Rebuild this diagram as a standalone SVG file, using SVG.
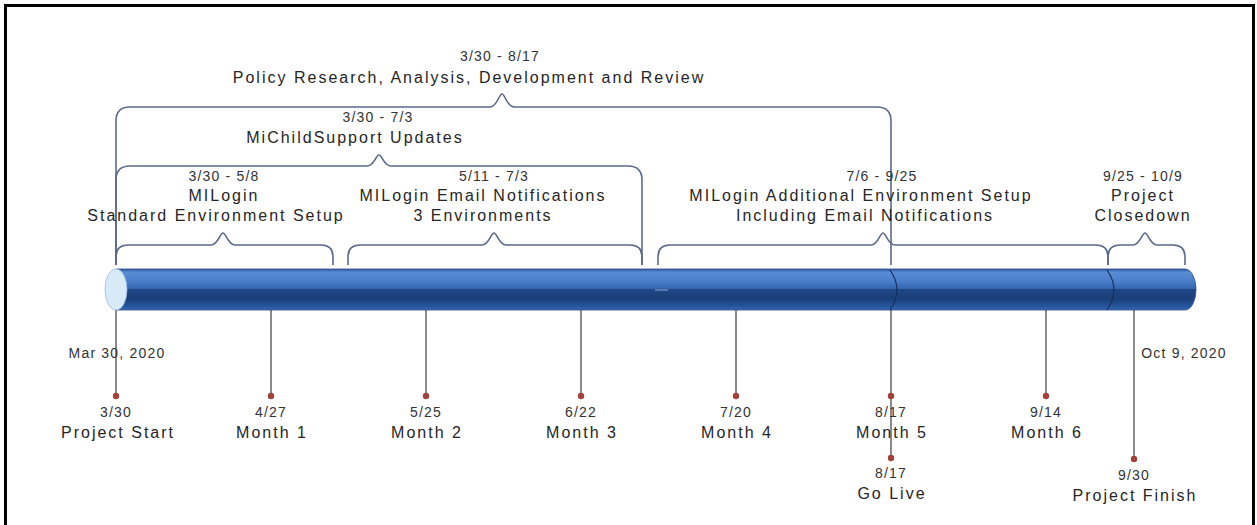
<svg xmlns="http://www.w3.org/2000/svg" width="1257" height="525" viewBox="0 0 1257 525">
<defs>
<linearGradient id="barGrad" x1="0" y1="0" x2="0" y2="1">
<stop offset="0" stop-color="#2a58a0"/>
<stop offset="0.08" stop-color="#5a8cd6"/>
<stop offset="0.3" stop-color="#4a7ec8"/>
<stop offset="0.48" stop-color="#3366b0"/>
<stop offset="0.5" stop-color="#1f4785"/>
<stop offset="0.72" stop-color="#1a3f78"/>
<stop offset="0.92" stop-color="#2656a0"/>
<stop offset="1" stop-color="#3a68b0"/>
</linearGradient>
<style>
.frame{fill:none;stroke:#000;stroke-width:3}
.brace{fill:none;stroke:#5a6a88;stroke-width:1.6}
.tick{stroke:#8a8a8a;stroke-width:2}
.dot{fill:#a2423a}
.lbl{font-family:"Liberation Sans",Arial,sans-serif;font-size:16px;letter-spacing:2px;fill:#262626;text-anchor:middle}
.dt{font-family:"Liberation Sans",Arial,sans-serif;font-size:14px;letter-spacing:1.2px;fill:#333;text-anchor:middle}
.div{fill:none;stroke:#17305e;stroke-width:1.2}
</style>
</defs>
<rect x="0" y="0" width="1257" height="525" fill="#fff"/>
<rect class="frame" x="5.5" y="5.5" width="1248" height="530"/>

<g id="connectors">
<path class="brace" d="M116,265 V121 Q116,107 130,107 H490 C497,107 499,94 502,94 C505,94 507,107 514,107 H877 Q891,107 891,121 V265"/>
<path class="brace" d="M116,265 V180 Q116,166 130,166 H367 C374,166 376,155 379,155 C382,155 384,166 391,166 H628 Q642,166 642,180 V265"/>
<path class="brace" d="M116,265 V257 Q116,245 128,245 H211 C218,245 220,233 223,233 C226,233 228,245 235,245 H321 Q333,245 333,257 V265"/>
<path class="brace" d="M348,265 V257 Q348,245 360,245 H482 C489,245 491,233 494,233 C497,233 499,245 506,245 H630 Q642,245 642,257 V265"/>
<path class="brace" d="M658,265 V257 Q658,245 670,245 H871 C878,245 880,233 883,233 C886,233 888,245 895,245 H1096 Q1108,245 1108,257 V265"/>
<path class="brace" d="M1108,265 V257 Q1108,245 1120,245 H1133 C1140,245 1142,233 1145,233 C1148,233 1150,245 1157,245 H1173 Q1185,245 1185,257 V265"/>
<line class="tick" x1="116" y1="310" x2="116" y2="396"/>
<line class="tick" x1="271" y1="310" x2="271" y2="396"/>
<line class="tick" x1="426" y1="310" x2="426" y2="396"/>
<line class="tick" x1="581" y1="310" x2="581" y2="396"/>
<line class="tick" x1="736" y1="310" x2="736" y2="396"/>
<line class="tick" x1="891" y1="310" x2="891" y2="458" stroke="#666"/>
<line class="tick" x1="1046" y1="310" x2="1046" y2="396"/>
<line class="tick" x1="1134" y1="310" x2="1134" y2="459"/>
</g>

<g id="timeline-bar">
<path d="M116,269 H1185 A11,20.5 0 0 1 1185,310 H116 Z" fill="url(#barGrad)" stroke="#2a4f8a" stroke-width="0.8"/>
<path class="div" d="M890,270 Q904,290 890,310"/>
<path class="div" d="M1107,270 Q1121,290 1107,310"/>
<line x1="655" y1="290" x2="668" y2="290" stroke="#7e9ccc" stroke-width="1.2"/>
<ellipse cx="116" cy="289.5" rx="11" ry="20.5" fill="#d8eaf8" stroke="#9ab8dc" stroke-width="0.8"/>
</g>

<g id="task-policy">
<text class="dt" x="500" y="61">3/30 - 8/17</text>
<text class="lbl" x="469" y="83">Policy Research, Analysis, Development and Review</text>
</g>
<g id="task-michildsupport">
<text class="dt" x="378" y="122">3/30 - 7/3</text>
<text class="lbl" x="355" y="143">MiChildSupport Updates</text>
</g>
<g id="task-milogin-standard">
<text class="dt" x="224" y="181">3/30 - 5/8</text>
<text class="lbl" x="224" y="201">MILogin</text>
<text class="lbl" x="216" y="221">Standard Environment Setup</text>
</g>
<g id="task-milogin-email">
<text class="dt" x="494" y="181">5/11 - 7/3</text>
<text class="lbl" x="483" y="201">MILogin Email Notifications</text>
<text class="lbl" x="483" y="221">3 Environments</text>
</g>
<g id="task-milogin-additional">
<text class="dt" x="882" y="181">7/6 - 9/25</text>
<text class="lbl" x="861" y="201">MILogin Additional Environment Setup</text>
<text class="lbl" x="865" y="221">Including Email Notifications</text>
</g>
<g id="task-closedown">
<text class="dt" x="1143" y="181">9/25 - 10/9</text>
<text class="lbl" x="1143" y="201">Project</text>
<text class="lbl" x="1143" y="221">Closedown</text>
</g>

<g id="start-date"><text class="dt" x="117" y="358">Mar 30, 2020</text></g>
<g id="end-date"><text class="dt" x="1184" y="358">Oct 9, 2020</text></g>

<g id="ms-start"><circle class="dot" cx="116" cy="396" r="3.2"/><text class="dt" x="116" y="417">3/30</text><text class="lbl" x="118" y="438">Project Start</text></g>
<g id="ms-month1"><circle class="dot" cx="271" cy="396" r="3.2"/><text class="dt" x="271" y="417">4/27</text><text class="lbl" x="272" y="438">Month 1</text></g>
<g id="ms-month2"><circle class="dot" cx="426" cy="396" r="3.2"/><text class="dt" x="426" y="417">5/25</text><text class="lbl" x="427" y="438">Month 2</text></g>
<g id="ms-month3"><circle class="dot" cx="581" cy="396" r="3.2"/><text class="dt" x="581" y="417">6/22</text><text class="lbl" x="582" y="438">Month 3</text></g>
<g id="ms-month4"><circle class="dot" cx="736" cy="396" r="3.2"/><text class="dt" x="736" y="417">7/20</text><text class="lbl" x="737" y="438">Month 4</text></g>
<g id="ms-month5"><circle class="dot" cx="891" cy="396" r="3.2"/><text class="dt" x="891" y="417">8/17</text><text class="lbl" x="892" y="438">Month 5</text></g>
<g id="ms-month6"><circle class="dot" cx="1046" cy="396" r="3.2"/><text class="dt" x="1046" y="417">9/14</text><text class="lbl" x="1047" y="438">Month 6</text></g>
<g id="ms-golive"><circle class="dot" cx="891" cy="458" r="3.2"/><text class="dt" x="891" y="478">8/17</text><text class="lbl" x="892" y="499">Go Live</text></g>
<g id="ms-finish"><circle class="dot" cx="1134" cy="459" r="3.2"/><text class="dt" x="1134" y="480">9/30</text><text class="lbl" x="1135" y="501">Project Finish</text></g>
</svg>
